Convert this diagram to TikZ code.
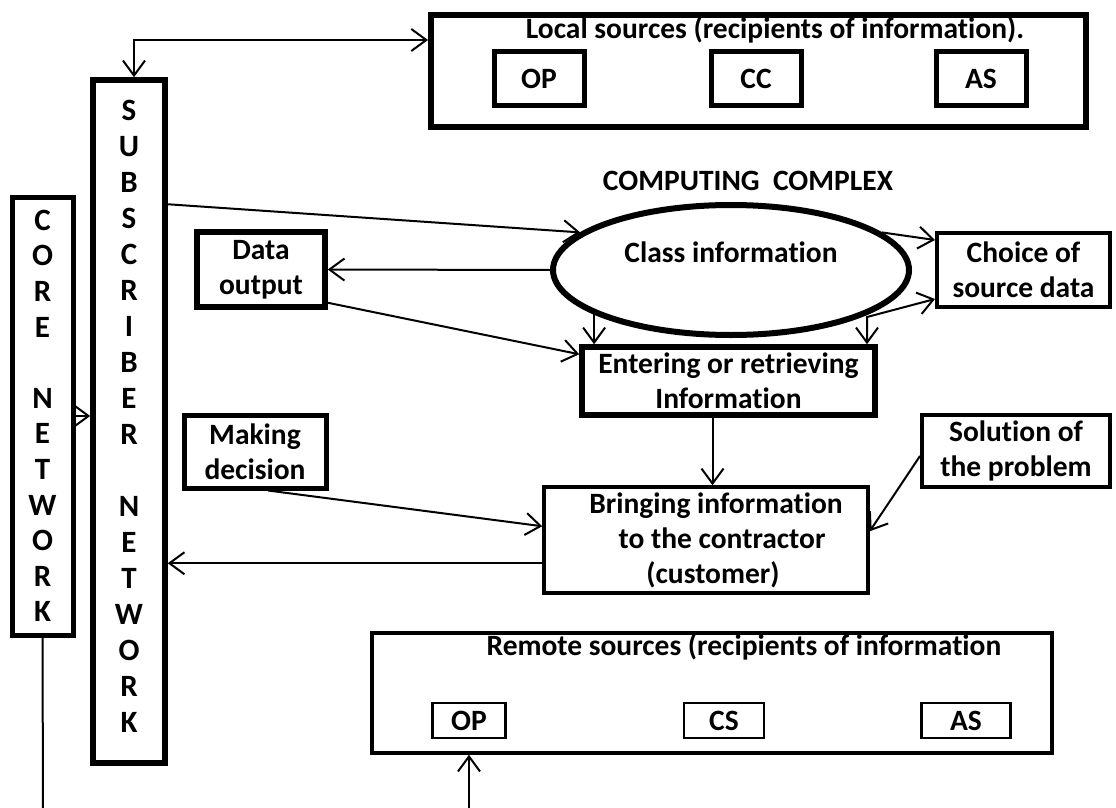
\documentclass[tikz,border=0pt]{standalone}
\usepackage{fontspec}
\setmainfont{Carlito}[Ligatures=NoCommon]
\usetikzlibrary{arrows.meta,shapes.geometric}

\begin{document}
\begin{tikzpicture}[x=1pt, y=-1pt,
    >={Straight Barb[length=15pt,width=22pt]},
    every node/.style={font=\fontsize{29.5}{35}\selectfont\bfseries, inner sep=0pt},
    box/.style={draw, rectangle, line width=#1, align=center},
    box/.default=5pt,
    conn/.style={->, line width=2pt}]
  \useasboundingbox (0,0) rectangle (1116,808);

  \node[box=5pt, minimum width=61pt, minimum height=438pt, font=\fontsize{31}{35.6}\selectfont\bfseries] (core) at (42.5,416) {C\\O\\R\\E\\\mbox{}\\N\\E\\T\\W\\O\\R\\K};
  \node[box=5.5pt, minimum width=72pt, minimum height=683pt, text depth=11pt, font=\fontsize{31}{36}\selectfont\bfseries] (sub) at (129,421.5) {S\\U\\B\\S\\C\\R\\I\\B\\E\\R\\\mbox{}\\N\\E\\T\\W\\O\\R\\K};

  \node[box=6pt, minimum width=655pt, minimum height=112pt] (local) at (758.5,71) {};
  \node[anchor=base] (localtitle) at (775,39) {Local sources (recipients of information).};
  \foreach \x/\src in {539/OP, 756/CC, 981/AS} {
      \node[box=5pt, minimum width=90pt, minimum height=53pt] (loc\src) at (\x,78.5) {\src};
  }

  \node[anchor=base] (cctitle) at (748,190) {COMPUTING\ \ COMPLEX};
  \node[draw, ellipse, line width=6pt, minimum width=356pt, minimum height=130pt] (ell) at (731,270) {\raisebox{8pt}[0pt][0pt]{Class information}};

  \node[box=5.5pt, minimum width=128pt, minimum height=75pt] (dout) at (261,269.5) {Data\\output};
  \node[box=4pt, minimum width=173pt, minimum height=74pt] (choice) at (1023.5,270) {Choice of\\source data};
  \node[box=5.5pt, minimum width=293pt, minimum height=68pt] (ent) at (728.5,381) {Entering or retrieving\\Information};
  \node[box=5pt, minimum width=142pt, minimum height=73pt] (make) at (255,451.5) {Making\\decision};
  \node[box=4pt, minimum width=188pt, minimum height=72pt] (sol) at (1016,451) {Solution of\\the problem};
  \node[box=3.5pt, minimum width=324pt, minimum height=106pt] (bring) at (706,540) {\hspace*{20pt}Bringing information\\\hspace*{32pt}to the contractor\\\hspace*{14pt}(customer)};

  \node[box=3.5pt, minimum width=680pt, minimum height=120pt] (remote) at (712,693) {};
  \node[anchor=base] (remtitle) at (744,655) {Remote sources (recipients of information};
  \foreach \x/\w/\src in {469/73/OP, 724/80/CS, 966/89/AS} {
      \node[box=2.5pt, minimum width=\w pt, minimum height=35pt] (rem\src) at (\x,720.5) {\src};
  }

  \coordinate (topbend) at (134,40);
  \draw[conn, <->] ([xshift=5pt]sub.north) -- (topbend) -- (topbend -| local.west);
  \draw[conn] (core.east) -- (core.east -| sub.west);
  \coordinate (coreend) at (43,808);
  \draw[line width=2pt] (core.south) -- (coreend);
  \coordinate (remin) at (469,808);
  \draw[conn] (remin) -- (remin |- remote.south);

  \draw[conn] ([yshift=-127pt]sub.north east) -- (ell.166);
  \draw[conn] (ell.west) -- (dout.east);
  \draw[conn] ([yshift=7pt]dout.south east) -- ([yshift=-10pt]ent.north west);
  \draw[conn] (ell.198) coordinate (e0) -- (e0 |- ent.north);
  \coordinate (split) at (867,317);
  \draw[conn, <->] (split |- ent.north) -- (split) -- ([yshift=10pt]choice.south west);
  \draw[conn] (ell.14) -- ([yshift=-9pt]choice.north west);
  \draw[conn] ([xshift=-16pt]ent.south) coordinate (e1) -- (e1 |- bring.north);
  \draw[conn] ([xshift=13pt]make.south) -- ([yshift=-41pt]bring.north west);
  \draw[conn] ([yshift=-43pt]sol.north west) -- ([yshift=-46pt]bring.north east);
  \draw[conn] ([yshift=-78pt]bring.north west) coordinate (b1) -- (b1 -| sub.east);
\end{tikzpicture}
\end{document}
